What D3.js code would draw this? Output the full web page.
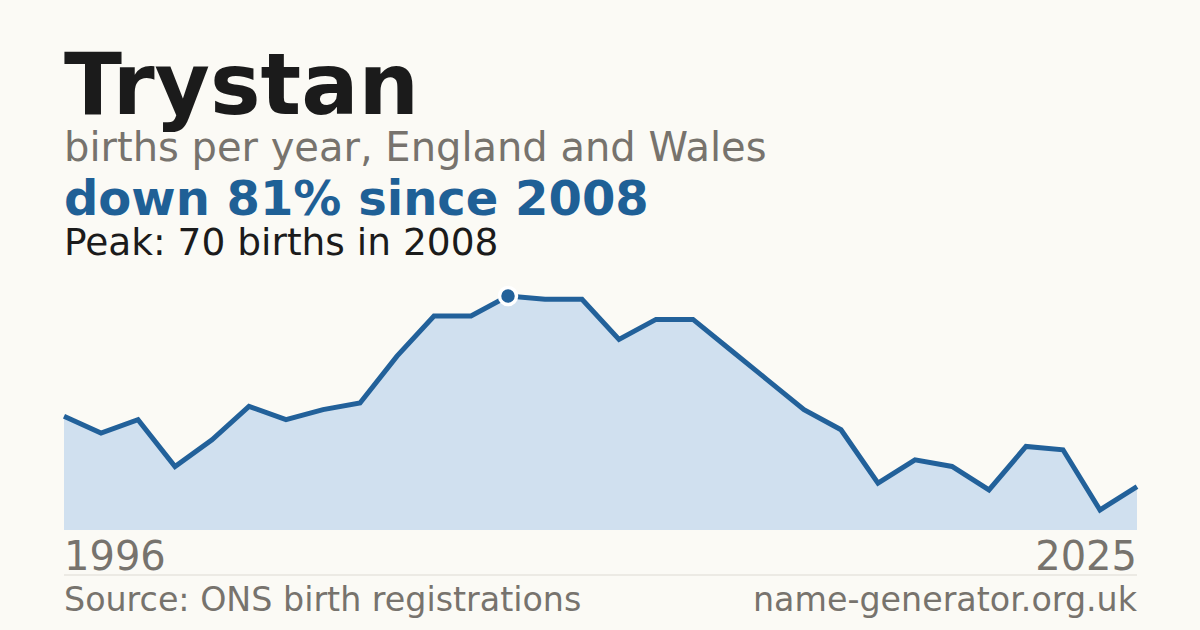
<!DOCTYPE html>
<html>
<head>
<meta charset="utf-8">
<script src="https://cdn.jsdelivr.net/npm/d3@7"></script>
<style>
  html, body { margin: 0; padding: 0; background: #fbfaf5; }
  svg { display: block; font-family: "DejaVu Sans", sans-serif; }
</style>
</head>
<body>
<div id="chart"></div>
<script>
// data
const years = d3.range(1996, 2026);
const births = [34, 29, 33, 19, 27, 37, 33, 36, 38, 52,
                64, 64, 70, 69, 69, 57, 63, 63, 54, 45,
                36, 30, 14, 21, 19, 12, 25, 24, 6, 13];
const tickYears = [1996, 2025];

const width = 1200;
const height = 630;
const margin = { left: 64, right: 63 };

const svg = d3.select("#chart")
    .append("svg")
    .attr("width", width)
    .attr("height", height);

svg.append("rect")
    .attr("width", width)
    .attr("height", height)
    .attr("fill", "#fbfaf5");

const data = years.map((y, i) => ({ year: y, value: births[i] }));
const peak = data.reduce((a, b) => (b.value > a.value ? b : a));
const last = data[data.length - 1];
const drop = Math.round((1 - last.value / peak.value) * 100);

// headings
svg.append("text")
    .attr("x", 64).attr("y", 114)
    .attr("font-size", 85).attr("font-weight", "bold")
    .attr("fill", "#1b1b1b")
    .text("Trystan");

svg.append("text")
    .attr("x", 64).attr("y", 161)
    .attr("font-size", 40)
    .attr("fill", "#77736d")
    .text("births per year, England and Wales");

svg.append("text")
    .attr("x", 64).attr("y", 215)
    .attr("font-size", 48).attr("font-weight", "bold")
    .attr("fill", "#1f6096")
    .text(`down ${drop}% since ${peak.year}`);

svg.append("text")
    .attr("x", 64).attr("y", 255)
    .attr("font-size", 37.5)
    .attr("fill", "#1b1b1b")
    .text(`Peak: ${peak.value} births in ${peak.year}`);

// scales
const x = d3.scaleLinear()
    .domain(d3.extent(years))
    .range([margin.left, width - margin.right]);

const y = d3.scaleLinear()
    .domain([0, peak.value])
    .range([530, 296]);

const area = d3.area()
    .x(d => x(d.year))
    .y0(y(0))
    .y1(d => y(d.value));

const line = d3.line()
    .x(d => x(d.year))
    .y(d => y(d.value));

svg.append("path")
    .datum(data)
    .attr("d", area)
    .attr("fill", "#d0e0ef");

svg.append("path")
    .datum(data)
    .attr("d", line)
    .attr("fill", "none")
    .attr("stroke", "#22619a")
    .attr("stroke-width", 5)
    .attr("stroke-linejoin", "miter");

svg.append("circle")
    .attr("cx", x(peak.year))
    .attr("cy", y(peak.value))
    .attr("r", 8.5)
    .attr("fill", "#22619a")
    .attr("stroke", "#ffffff")
    .attr("stroke-width", 3.5);

// year labels
svg.selectAll(".yr")
    .data(tickYears)
    .join("text")
    .attr("class", "yr")
    .attr("x", d => x(d))
    .attr("y", 570)
    .attr("text-anchor", (d, i) => (i === 0 ? "start" : "end"))
    .attr("font-size", 40)
    .attr("fill", "#77736d")
    .text(d => d);

svg.append("line")
    .attr("x1", margin.left).attr("x2", width - margin.right)
    .attr("y1", 575).attr("y2", 575)
    .attr("stroke", "#dddad3")
    .attr("stroke-width", 1);

// footer
svg.append("text")
    .attr("x", 64).attr("y", 611)
    .attr("font-size", 33.3)
    .attr("fill", "#77736d")
    .text("Source: ONS birth registrations");

svg.append("text")
    .attr("x", width - margin.right).attr("y", 611)
    .attr("text-anchor", "end")
    .attr("font-size", 33.3)
    .attr("fill", "#77736d")
    .text("name-generator.org.uk");
</script>
</body>
</html>
